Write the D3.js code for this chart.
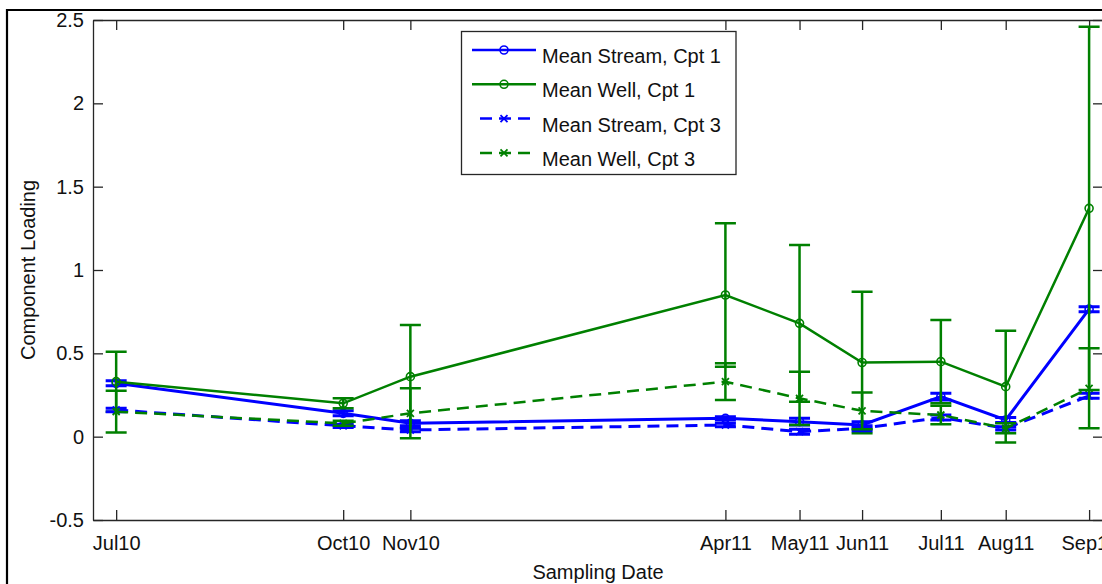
<!DOCTYPE html>
<html>
<head>
<meta charset="utf-8">
<script src="https://cdn.jsdelivr.net/npm/d3@7/dist/d3.min.js"></script>
<style>
  html, body { margin: 0; padding: 0; background: #fff; }
  svg { display: block; }
  text { font-family: "Liberation Sans", Arial, Helvetica, sans-serif; fill: #111; }
</style>
</head>
<body>
<svg id="chart" width="1102" height="584"></svg>
<script>
// Sampling campaigns (dates) and their tick labels
const sampleDates = ["2010-07-15", "2010-10-21", "2010-11-19", "2011-04-04", "2011-05-06",
                     "2011-06-02", "2011-07-06", "2011-08-03", "2011-09-08"];
const dateLabels = ["Jul10", "Oct10", "Nov10", "Apr11", "May11", "Jun11", "Jul11", "Aug11", "Sep11"];
const xLimits = ["2010-07-05", "2011-09-14"];

const yTicks = [-0.5, 0, 0.5, 1, 1.5, 2, 2.5];
const yTickLabels = ["-0.5", "0", "0.5", "1", "1.5", "2", "2.5"];

// Component loadings (means) and error half-widths
const streamCpt1 = [0.32, 0.14, 0.08, 0.11, 0.09, 0.07, 0.24, 0.10, 0.765];
const streamCpt1Err = [0.015, 0.015, 0.015, 0.01, 0.02, 0.02, 0.02, 0.015, 0.015];
const wellCpt1 = [0.33, 0.20, 0.36, 0.85, 0.68, 0.445, 0.45, 0.30, 1.37];
const wellCpt1Err = [0.18, 0.03, 0.31, 0.43, 0.47, 0.425, 0.25, 0.335, 1.09];
const streamCpt3 = [0.16, 0.065, 0.04, 0.07, 0.03, 0.05, 0.115, 0.05, 0.245];
const streamCpt3Err = [0.01, 0.01, 0.01, 0.01, 0.015, 0.015, 0.015, 0.01, 0.015];
const wellCpt3 = [0.15, 0.08, 0.14, 0.33, 0.23, 0.155, 0.13, 0.05, 0.29];
const wellCpt3Err = [0.125, 0.015, 0.15, 0.11, 0.16, 0.11, 0.055, 0.03, 0.24];

const seriesNames = ["Mean Stream, Cpt 1", "Mean Well, Cpt 1", "Mean Stream, Cpt 3", "Mean Well, Cpt 3"];

const parse = d3.utcParse("%Y-%m-%d");
const dates = sampleDates.map(parse);

const series = [
  { name: seriesNames[0], mean: streamCpt1, err: streamCpt1Err, color: "#0000ff", dash: null, marker: "circle", width: 3 },
  { name: seriesNames[1], mean: wellCpt1, err: wellCpt1Err, color: "#008000", dash: null, marker: "circle", width: 2.5 },
  { name: seriesNames[2], mean: streamCpt3, err: streamCpt3Err, color: "#0000ff", dash: "12,7", marker: "x", width: 3 },
  { name: seriesNames[3], mean: wellCpt3, err: wellCpt3Err, color: "#008000", dash: "12,7", marker: "x", width: 2.5 }
];

const svg = d3.select("#chart");
const W = 1102, H = 584;
const plot = { left: 93, top: 20, right: 1103, bottom: 520 };

// figure frame (left and top edges are visible)
svg.append("path")
  .attr("d", `M7,${H + 2} L7,10 L${W + 2},10`)
  .attr("fill", "none").attr("stroke", "#000").attr("stroke-width", 2.2);

const x = d3.scaleUtc().domain(xLimits.map(parse)).range([plot.left, plot.right]);
const y = d3.scaleLinear().domain([-0.5, 2.5]).range([plot.bottom, plot.top]);

const axisColor = "#262626";
function styleAxis(g) {
  g.selectAll(".domain").attr("stroke", axisColor).attr("stroke-width", 1.3);
  g.selectAll(".tick line").attr("stroke", axisColor).attr("stroke-width", 1.3);
  g.selectAll(".tick text").attr("font-size", 20).attr("fill", "#111")
    .attr("font-family", "'Liberation Sans', Arial, Helvetica, sans-serif");
}

// axes: labelled left/bottom, mirrored ticks on top/right
svg.append("g").attr("transform", `translate(${plot.left},0)`)
  .call(d3.axisLeft(y).tickValues(yTicks).tickFormat((d, i) => yTickLabels[i]).tickSize(-10).tickSizeOuter(0).tickPadding(9))
  .call(styleAxis);
svg.append("g").attr("transform", `translate(${plot.right},0)`)
  .call(d3.axisRight(y).tickValues(yTicks).tickFormat("").tickSize(-10).tickSizeOuter(0))
  .call(styleAxis);
svg.append("g").attr("transform", `translate(0,${plot.bottom})`)
  .call(d3.axisBottom(x).tickValues(dates).tickFormat((d, i) => dateLabels[i]).tickSize(-10).tickSizeOuter(0).tickPadding(16))
  .call(styleAxis);
svg.append("g").attr("transform", `translate(0,${plot.top})`)
  .call(d3.axisTop(x).tickValues(dates).tickFormat("").tickSize(-10).tickSizeOuter(0))
  .call(styleAxis);

svg.selectAll("g text").attr("font-size", 20);

// axis titles
svg.append("text")
  .attr("x", (plot.left + plot.right) / 2).attr("y", 579)
  .attr("text-anchor", "middle").attr("font-size", 20)
  .text("Sampling Date");
svg.append("text")
  .attr("transform", `translate(35,${(plot.top + plot.bottom) / 2}) rotate(-90)`)
  .attr("text-anchor", "middle").attr("font-size", 20)
  .text("Component Loading");

const plotArea = svg.append("g");
const capHalf = 10.5;

function drawMarker(g, cx, cy, s) {
  if (s.marker === "circle") {
    g.append("circle").attr("cx", cx).attr("cy", cy).attr("r", 4)
      .attr("fill", "none").attr("stroke", s.color).attr("stroke-width", 1.6);
  } else {
    const r = 3.5;
    g.append("path")
      .attr("d", `M${cx - r},${cy - r}L${cx + r},${cy + r}M${cx - r},${cy + r}L${cx + r},${cy - r}`)
      .attr("stroke", s.color).attr("stroke-width", 1.8).attr("fill", "none");
  }
}

series.forEach(s => {
  const g = plotArea.append("g");
  const pts = dates.map((d, i) => ({ d, m: s.mean[i], e: s.err[i] }));

  // error bars with caps
  pts.forEach(p => {
    const cx = x(p.d), y0 = y(p.m - p.e), y1 = y(p.m + p.e);
    g.append("path")
      .attr("d", `M${cx},${y0}L${cx},${y1}M${cx - capHalf},${y0}L${cx + capHalf},${y0}M${cx - capHalf},${y1}L${cx + capHalf},${y1}`)
      .attr("stroke", s.color).attr("stroke-width", s.width).attr("fill", "none");
  });

  // connecting line
  g.append("path").datum(pts)
    .attr("d", d3.line().x(p => x(p.d)).y(p => y(p.m)))
    .attr("fill", "none").attr("stroke", s.color).attr("stroke-width", s.width)
    .attr("stroke-dasharray", s.dash);

  pts.forEach(p => drawMarker(g, x(p.d), y(p.m), s));
});

// legend
const legend = svg.append("g");
legend.append("rect")
  .attr("x", 461.5).attr("y", 31.5).attr("width", 274.5).attr("height", 143)
  .attr("fill", "#fff").attr("stroke", axisColor).attr("stroke-width", 1.3);
series.forEach((s, i) => {
  const ly = 50 + i * 34.3;
  legend.append("line")
    .attr("x1", s.dash ? 480 : 472).attr("x2", 536).attr("y1", ly).attr("y2", ly)
    .attr("stroke", s.color).attr("stroke-width", 2.5)
    .attr("stroke-dasharray", s.dash ? "12,7" : null);
  drawMarker(legend, 504, ly, s);
  legend.append("text")
    .attr("x", 542).attr("y", ly + 13).attr("font-size", 20)
    .text(s.name);
});
</script>
</body>
</html>
